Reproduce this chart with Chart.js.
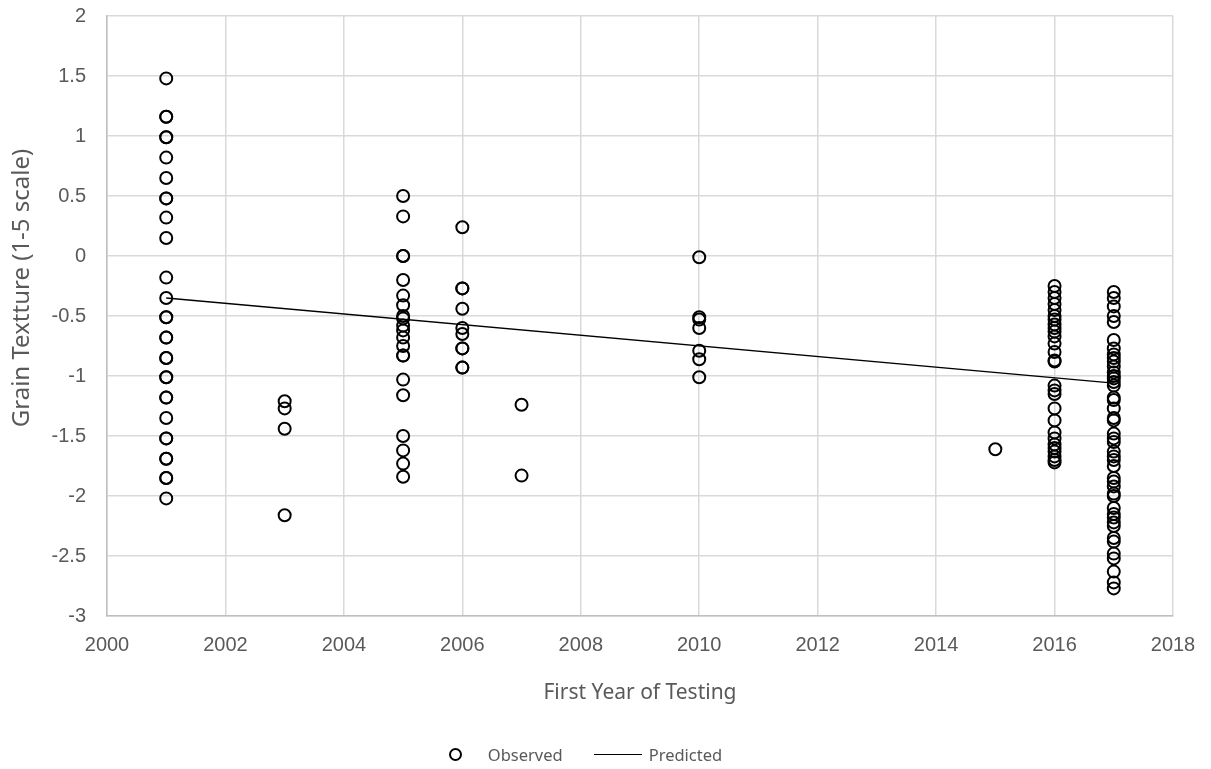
<!DOCTYPE html>
<html>
<head>
<meta charset="utf-8">
<script src="https://cdn.jsdelivr.net/npm/chart.js@4"></script>
<style>
    html, body { margin: 0; padding: 0; background: #fff; }
    #wrap { position: relative; width: 1211px; height: 769px; }
    #legend {
        position: absolute; left: 0; width: 1171px; padding-right: 40px; top: 743px;
        display: flex; justify-content: center; align-items: center;
        font-family: 'Noto Sans', sans-serif; font-size: 16.5px; color: #595959;
    }
    .dot { display: inline-block; width: 9px; height: 9px; border: 2px solid #000; border-radius: 50%; margin-right: 26px; }
    .ln  { display: inline-block; width: 48px; border-top: 1px solid #000; margin: 0 7px 0 31px; }
</style>
</head>
<body>
<div id="wrap">
    <canvas id="chart" width="1211" height="769"></canvas>
    <div id="legend"></div>
</div>
<script>
(function () {
    'use strict';

    // ── DATA ───────────────────────────────────────────────────────────────
    const OBS_LABEL  = 'Observed';
    const PRED_LABEL = 'Predicted';

    const YEARS = [2001, 2003, 2005, 2006, 2007, 2010, 2015, 2016, 2017];
    const VALUES = [
        // 2001
        [1.48, 1.16, 1.16, 0.99, 0.99, 0.82, 0.65, 0.48, 0.48, 0.32, 0.15, -0.18, -0.35,
         -0.51, -0.51, -0.68, -0.68, -0.85, -0.85, -1.01, -1.01, -1.18, -1.18, -1.35,
         -1.52, -1.52, -1.69, -1.69, -1.85, -1.85, -2.02],
        // 2003
        [-1.21, -1.27, -1.44, -2.16],
        // 2005
        [0.50, 0.33, 0.00, 0.00, -0.20, -0.33, -0.41, -0.50, -0.52, -0.58, -0.62, -0.68,
         -0.75, -0.83, -0.83, -1.03, -1.16, -1.50, -1.62, -1.73, -1.84],
        // 2006
        [0.24, -0.27, -0.27, -0.44, -0.60, -0.65, -0.77, -0.77, -0.93, -0.93],
        // 2007
        [-1.24, -1.83],
        // 2010
        [-0.01, -0.51, -0.53, -0.60, -0.79, -0.86, -1.01],
        // 2015
        [-1.61],
        // 2016
        [-0.25, -0.30, -0.35, -0.40, -0.45, -0.50, -0.53, -0.57, -0.60, -0.63, -0.67,
         -0.73, -0.80, -0.87, -0.88, -1.08, -1.12, -1.15, -1.27, -1.37, -1.47, -1.52,
         -1.57, -1.60, -1.63, -1.67, -1.70, -1.72],
        // 2017
        [-0.30, -0.35, -0.42, -0.50, -0.55, -0.70, -0.77, -0.82, -0.85, -0.88, -0.92,
         -0.97, -1.00, -1.02, -1.05, -1.08, -1.18, -1.20, -1.27, -1.35, -1.37, -1.48,
         -1.52, -1.55, -1.63, -1.67, -1.70, -1.75, -1.85, -1.88, -1.92, -1.98, -2.00,
         -2.10, -2.15, -2.18, -2.22, -2.25, -2.35, -2.38, -2.48, -2.52, -2.63, -2.72, -2.77]
    ];

    const PRED_X = [2001, 2017];
    const PRED_Y = [-0.35, -1.06];

    const X_TITLE = 'First Year of Testing';
    const Y_TITLE = 'Grain Textture (1-5 scale)';

    // ── STYLE ──────────────────────────────────────────────────────────────
    const GRID  = '#d9d9d9';
    const TICK  = '#595959';
    const TFONT = { family: "'Liberation Sans', Arial, sans-serif", size: 20 };
    const XFONT = { family: "'Noto Sans', sans-serif", size: 21 };

    const observed = [];
    YEARS.forEach((yr, i) => VALUES[i].forEach(v => observed.push({ x: yr, y: v })));
    const predicted = PRED_X.map((x, i) => ({ x, y: PRED_Y[i] }));

    // y title sits a bit above the plot centre in the original, so draw it here
    const yTitlePlugin = {
        id: 'yTitle',
        afterDraw(chart) {
            const { ctx, chartArea } = chart;
            ctx.save();
            ctx.translate(22, (chartArea.top + chartArea.bottom) / 2 - 28);
            ctx.rotate(-Math.PI / 2);
            ctx.font = "24px 'Noto Sans', sans-serif";
            ctx.fillStyle = TICK;
            ctx.textAlign = 'center';
            ctx.textBaseline = 'middle';
            ctx.fillText(Y_TITLE, 0, 0);
            ctx.restore();
        }
    };

    new Chart(document.getElementById('chart'), {
        type: 'scatter',
        data: {
            datasets: [{
                label: OBS_LABEL,
                data: observed,
                pointRadius: 6,
                pointHoverRadius: 6,
                borderWidth: 2,
                borderColor: '#000',
                backgroundColor: 'transparent',
                order: 1
            }, {
                type: 'line',
                label: PRED_LABEL,
                data: predicted,
                borderColor: '#000',
                borderWidth: 1.3,
                pointRadius: 0,
                fill: false,
                order: 0
            }]
        },
        plugins: [yTitlePlugin],
        options: {
            responsive: false,
            animation: false,
            layout: { padding: { top: 16, right: 38, bottom: 63, left: 0 } },
            plugins: {
                legend: { display: false },
                tooltip: { enabled: false }
            },
            scales: {
                x: {
                    type: 'linear',
                    min: 2000,
                    max: 2018,
                    afterFit: s => { s.height = 90; s.paddingLeft = 0; s.paddingRight = 0; },
                    ticks: {
                        stepSize: 2,
                        padding: 17,
                        color: TICK,
                        font: TFONT,
                        callback: v => String(v)
                    },
                    grid: { color: GRID, lineWidth: 1.5, drawTicks: false },
                    border: { color: '#bfbfbf', width: 1.5 },
                    title: {
                        display: true,
                        text: X_TITLE,
                        color: TICK,
                        font: XFONT,
                        padding: { top: 3, bottom: 0 }
                    }
                },
                y: {
                    min: -3,
                    max: 2,
                    afterFit: s => { s.width = 107; s.paddingTop = 0; s.paddingBottom = 0; },
                    ticks: {
                        stepSize: 0.5,
                        padding: 21,
                        color: TICK,
                        font: TFONT,
                        callback: v => String(v)
                    },
                    grid: { color: GRID, lineWidth: 1.5, drawTicks: false },
                    border: { color: '#bfbfbf', width: 1.5 },
                    title: { display: false }
                }
            }
        }
    });

    // ── LEGEND ─────────────────────────────────────────────────────────────
    document.getElementById('legend').innerHTML =
        `<span class="dot"></span><span>${OBS_LABEL}</span>` +
        `<span class="ln"></span><span>${PRED_LABEL}</span>`;
})();
</script>
</body>
</html>
